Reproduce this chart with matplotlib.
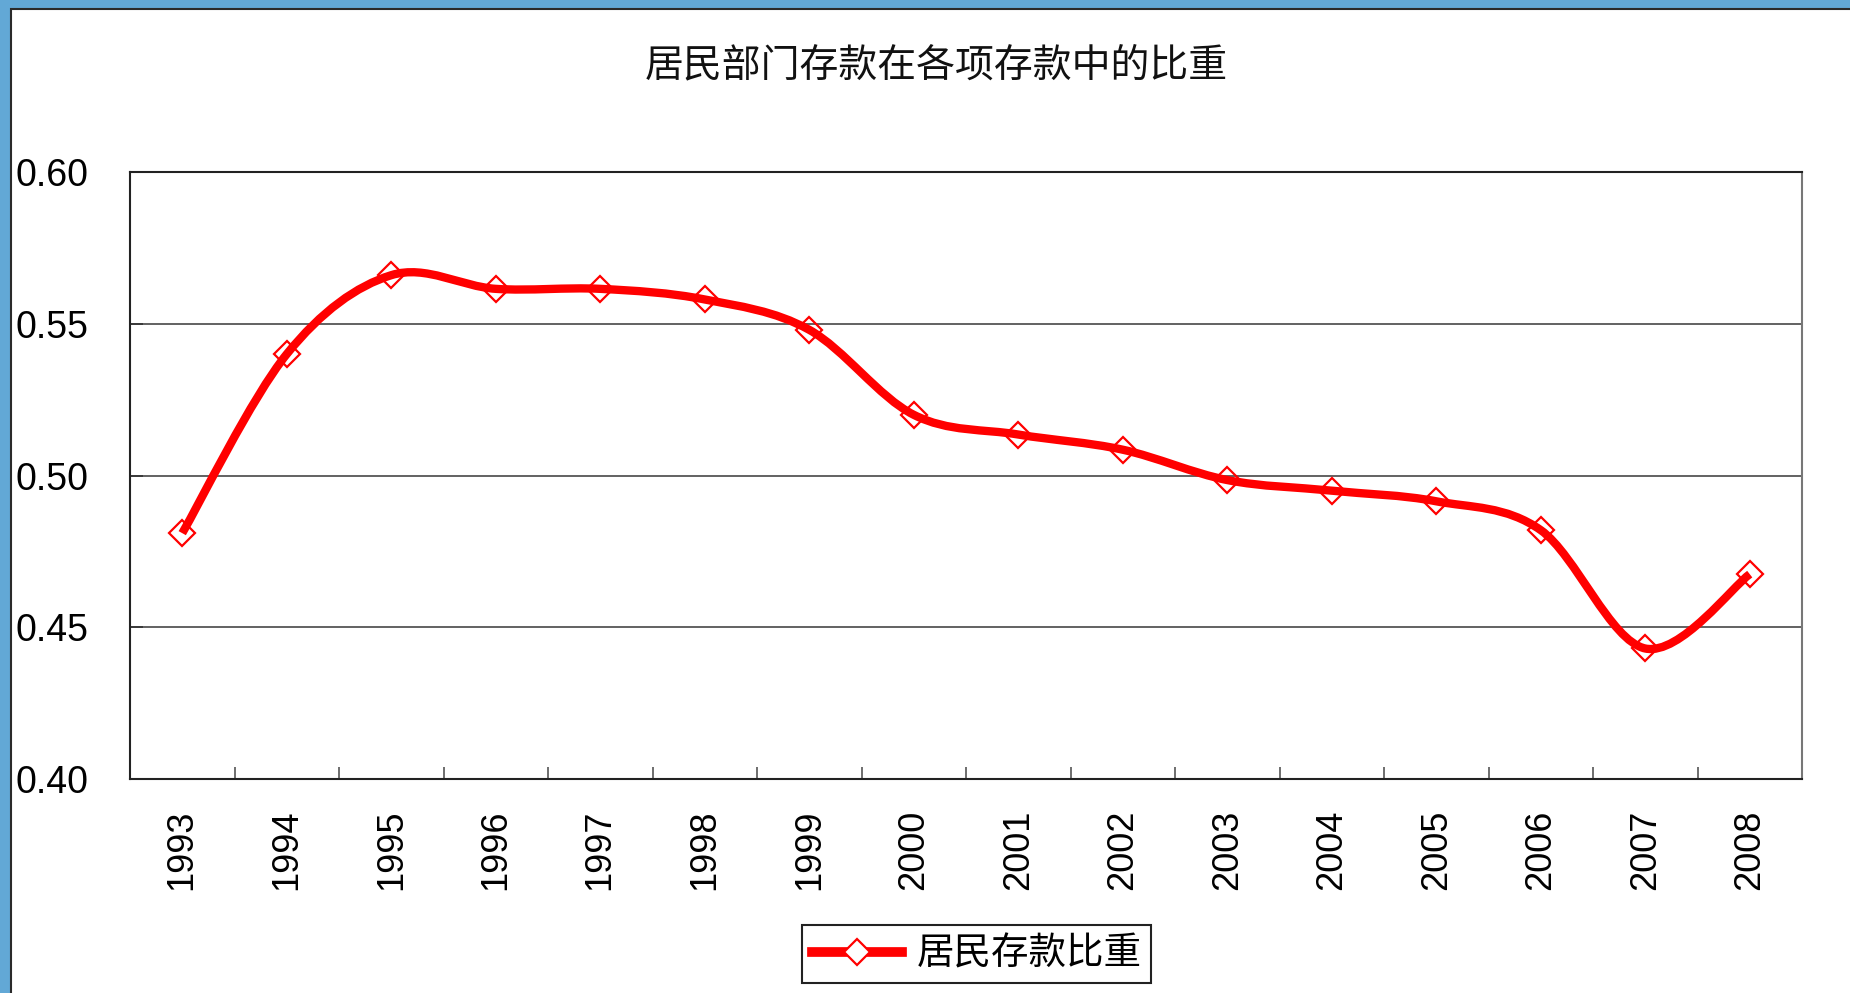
import numpy as np
import matplotlib
matplotlib.use("Agg")
import matplotlib.pyplot as plt
from matplotlib.path import Path
from matplotlib.patches import PathPatch, Rectangle
from matplotlib.lines import Line2D

plt.rcParams['font.family'] = ['Liberation Sans', 'Noto Sans CJK SC', 'DejaVu Sans']

# data
years = ['1993', '1994', '1995', '1996', '1997', '1998', '1999', '2000',
         '2001', '2002', '2003', '2004', '2005', '2006', '2007', '2008']
share = [0.481, 0.540, 0.566, 0.5615, 0.5615, 0.558, 0.548, 0.520,
         0.5135, 0.5085, 0.4985, 0.495, 0.4915, 0.482, 0.443, 0.4675]
yticks = [0.40, 0.45, 0.50, 0.55, 0.60]
title = '居民部门存款在各项存款中的比重'
series_name = '居民存款比重'

red = '#ff0000'

fig = plt.figure(figsize=(18.5, 9.93), dpi=100)
fig.patch.set_facecolor('#62a8d6')
# white panel with a dark edge on the left/top
fig.patches.append(Rectangle((11 / 1850, -0.1), 1.1, 1.1 - 9 / 993, transform=fig.transFigure,
                             facecolor='white', edgecolor='#2a2a2a', linewidth=1.5, zorder=-10))

ax = fig.add_axes([130 / 1850, 1 - 779 / 993, 1672 / 1850, 607 / 993])
x = np.arange(len(years))

# smoothed line (excel style bezier through the points)
pts = np.column_stack([x, share])
verts = [pts[0]]
codes = [Path.MOVETO]
n = len(pts)
for i in range(n - 1):
    p0 = pts[max(i - 1, 0)]
    p1 = pts[i]
    p2 = pts[i + 1]
    p3 = pts[min(i + 2, n - 1)]
    c1 = p1 + (p2 - p0) / 6
    c2 = p2 - (p3 - p1) / 6
    verts += [c1, c2, p2]
    codes += [Path.CURVE4] * 3
ax.add_patch(PathPatch(Path(verts, codes), facecolor='none', edgecolor=red,
                       linewidth=6, capstyle='butt', joinstyle='round', zorder=3))
ax.plot(x, share, linestyle='none', marker='D', markersize=13.5, markerfacecolor='none',
        markeredgecolor=red, markeredgewidth=1.6, zorder=4)

ax.set_xlim(-0.5, len(years) - 0.5)
ax.set_ylim(0.40, 0.60)
ax.set_yticks(yticks)
ax.set_yticklabels([f'{v:.2f}' for v in yticks])
ax.set_xticks(x)
ax.set_xticklabels(years, rotation=90)
ax.set_xticks(np.arange(0.5, len(years) - 1, 1), minor=True)
ax.tick_params(axis='x', which='major', length=0, pad=22, labelsize=26)
ax.tick_params(axis='x', which='minor', direction='in', length=9, width=1.2, color='#555555')
ax.tick_params(axis='y', direction='in', length=9, width=1.2, pad=30, labelsize=27,
               color='#333333')
ax.grid(axis='y', color='#555555', linewidth=1.3)
ax.set_axisbelow(True)
for s in ax.spines.values():
    s.set_color('#222222')
    s.set_linewidth(1.5)
ax.spines['right'].set_color('#777777')

fig.text(936 / 1850, 1 - 65 / 993, title, ha='center', va='center', fontsize=28,
         family=['Noto Sans CJK SC', 'DejaVu Sans'], fontweight='light', color='#111111')

handle = Line2D([], [], color=red, linewidth=7, marker='D', markersize=13.5,
                markerfacecolor='white', markeredgecolor=red, markeredgewidth=1.6)
leg = fig.legend([handle], [series_name], loc='center', bbox_to_anchor=(0.528, 0.039),
                 fancybox=False, framealpha=1, edgecolor='#222222', handlelength=2.4,
                 handletextpad=0.4, borderpad=0.25, borderaxespad=0,
                 prop={'family': ['Noto Sans CJK SC', 'DejaVu Sans'], 'size': 27, 'weight': 'light'})
leg.get_frame().set_linewidth(1.5)

fig.savefig('out.png', dpi=100, facecolor=fig.get_facecolor())
